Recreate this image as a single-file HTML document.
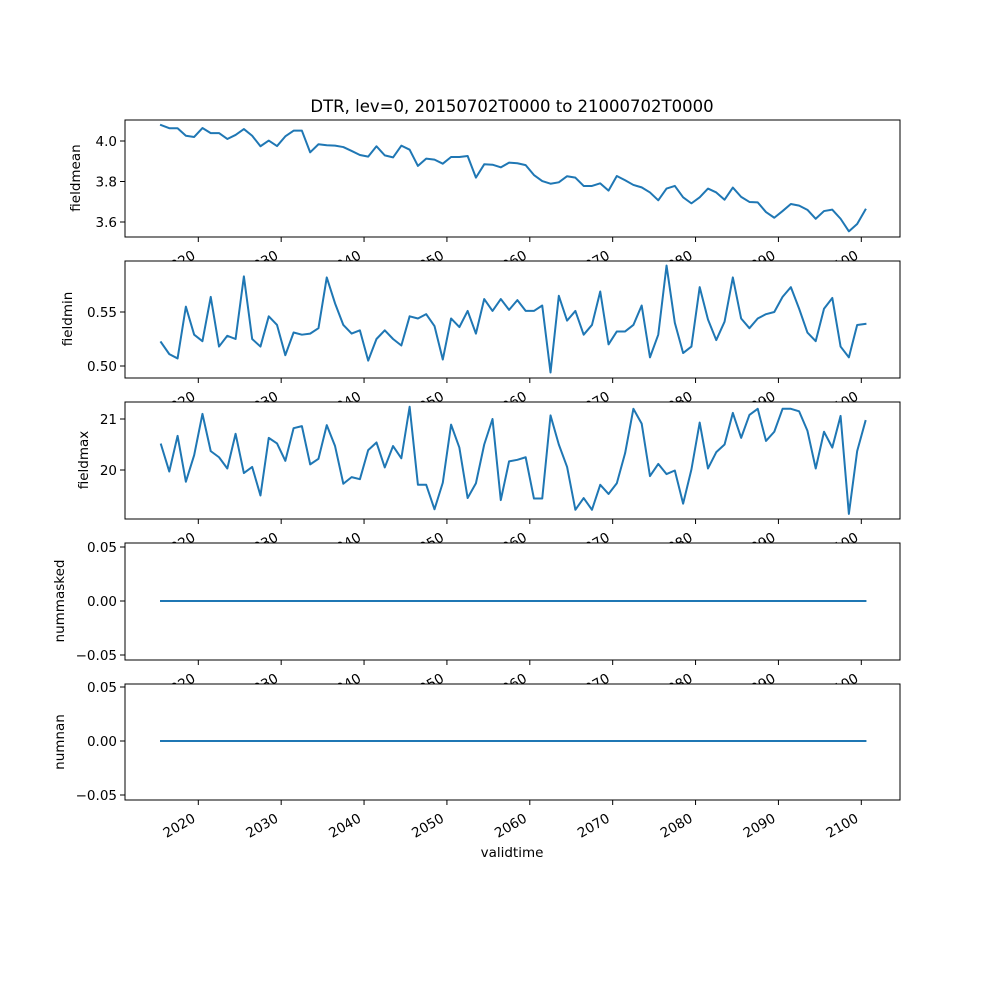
<!DOCTYPE html>
<html><head><meta charset="utf-8"><style>
html,body{margin:0;padding:0;background:#fff}
svg{display:block;font-family:"DejaVu Sans","Liberation Sans",sans-serif}
</style></head><body>
<svg id="fig" width="1000" height="1000" viewBox="0 0 1000 1000">
<text x="512" y="112" text-anchor="middle" font-size="16.5" fill="#000">DTR, lev=0, 20150702T0000 to 21000702T0000</text>
</svg>
<script>
const years = [];
for (let i = 0; i < 86; i++) years.push(2015.5 + i);
const fieldmean = [4.079,4.063,4.063,4.026,4.020,4.064,4.039,4.039,4.010,4.030,4.059,4.026,3.974,4.002,3.975,4.023,4.051,4.051,3.944,3.984,3.979,3.977,3.970,3.951,3.931,3.923,3.974,3.929,3.919,3.977,3.957,3.877,3.913,3.908,3.888,3.921,3.921,3.926,3.819,3.885,3.883,3.870,3.893,3.890,3.881,3.832,3.802,3.789,3.796,3.826,3.819,3.778,3.778,3.791,3.755,3.827,3.806,3.783,3.771,3.746,3.707,3.765,3.778,3.722,3.692,3.722,3.765,3.746,3.710,3.770,3.724,3.699,3.697,3.649,3.621,3.654,3.689,3.681,3.660,3.616,3.654,3.661,3.616,3.554,3.590,3.661];
const fieldmin = [0.522,0.511,0.507,0.555,0.529,0.523,0.564,0.518,0.528,0.525,0.583,0.525,0.518,0.546,0.538,0.510,0.531,0.529,0.530,0.535,0.582,0.558,0.538,0.530,0.533,0.505,0.525,0.533,0.525,0.519,0.546,0.544,0.548,0.537,0.506,0.544,0.536,0.551,0.530,0.562,0.551,0.562,0.552,0.561,0.551,0.551,0.556,0.494,0.565,0.542,0.551,0.529,0.538,0.569,0.520,0.532,0.532,0.538,0.556,0.508,0.529,0.593,0.540,0.512,0.518,0.573,0.543,0.524,0.541,0.582,0.544,0.535,0.544,0.548,0.550,0.564,0.573,0.553,0.531,0.523,0.553,0.563,0.518,0.508,0.538,0.539];
const fieldmax = [20.50,19.97,20.67,19.77,20.29,21.10,20.37,20.25,20.03,20.71,19.94,20.06,19.50,20.63,20.52,20.18,20.82,20.86,20.11,20.22,20.88,20.47,19.73,19.86,19.82,20.39,20.54,20.05,20.47,20.23,21.24,19.71,19.71,19.23,19.75,20.89,20.44,19.45,19.74,20.50,21.00,19.41,20.17,20.20,20.25,19.44,19.44,21.07,20.50,20.06,19.22,19.45,19.22,19.71,19.53,19.74,20.33,21.20,20.91,19.88,20.12,19.92,19.99,19.34,20.01,20.93,20.03,20.35,20.50,21.12,20.63,21.08,21.20,20.57,20.75,21.20,21.20,21.15,20.77,20.03,20.75,20.44,21.06,19.14,20.37,20.96];
const nummasked = new Array(86).fill(0);
const numnan = new Array(86).fill(0);
const xTicks = [2020,2030,2040,2050,2060,2070,2080,2090,2100];
const xTickLabels = ["2020","2030","2040","2050","2060","2070","2080","2090","2100"];
const t1 = [3.6,3.8,4.0], t1l = ["3.6","3.8","4.0"];
const t2 = [0.50,0.55], t2l = ["0.50","0.55"];
const t3 = [20,21], t3l = ["20","21"];
const t4 = [-0.05,0,0.05], t4l = ["\u22120.05","0.00","0.05"];

const NS = "http://www.w3.org/2000/svg";
const svg = document.getElementById('fig');
const L = 125, R = 900;
function xs(t){ return 198.3 + (t - 2020) * 8.2875; }
function mk(tag, attrs, parent){ const e = document.createElementNS(NS, tag); for (const k in attrs) e.setAttribute(k, attrs[k]); (parent||svg).appendChild(e); return e; }

const panels = [
 {name:'fieldmean', top:120, bot:237, data:fieldmean, ys:v=>141+(4.0-v)*202.5, ticks:t1, tl:t1l, lx:80, ly:178},
 {name:'fieldmin', top:261, bot:378, data:fieldmin, ys:v=>312+(0.55-v)*1080, ticks:t2, tl:t2l, lx:72, ly:319},
 {name:'fieldmax', top:402, bot:519, data:fieldmax, ys:v=>419+(21-v)*51, ticks:t3, tl:t3l, lx:88, ly:460},
 {name:'nummasked', top:543, bot:660, data:nummasked, ys:v=>601-v*1080, ticks:t4, tl:t4l, lx:64, ly:601},
 {name:'numnan', top:684, bot:800, data:numnan, ys:v=>741-v*1080, ticks:t4, tl:t4l, lx:64, ly:742}
];

panels.forEach((p, pi) => {
  const g = mk('g', {});
  
  
  const bg = mk('rect', {x:L, y:p.top, width:R-L, height:p.bot-p.top, fill:'#fff'}, g);
  
  
  const pts = p.data.map((v,i) => xs(years[i]).toFixed(2) + ',' + p.ys(v).toFixed(2)).join(' ');
  const line = mk('polyline', {points:pts, fill:'none', stroke:'#1f77b4', 'stroke-width':2, 'stroke-linejoin':'round', 'stroke-linecap':'square'}, g);
  
  
  const fr = mk('rect', {x:L, y:p.top, width:R-L, height:p.bot-p.top, fill:'none', stroke:'#000', 'stroke-width':1}, g);
  
  
  p.ticks.forEach((tv, i) => {
    const y = p.ys(tv);
    mk('line', {x1:L-5, x2:L, y1:y, y2:y, stroke:'#000', 'stroke-width':1}, g);
    const tx = mk('text', {x:L-8, y:y+5, 'text-anchor':'end', 'font-size':13.5, fill:'#000'}, g);
    
    
    tx.textContent = p.tl[i];
  });
  const yl = mk('text', {x:p.lx, y:p.ly, 'text-anchor':'middle', 'font-size':13.5, fill:'#000', transform:'rotate(-90 '+p.lx+' '+p.ly+')'}, g);
  
  
  yl.textContent = p.name;
  xTicks.forEach((t, i) => {
    const x = xs(t);
    mk('line', {x1:x, x2:x, y1:p.bot, y2:p.bot+5, stroke:'#000', 'stroke-width':1}, g);
    const ax = x - 2, ay = p.bot + 21;
    const tx = mk('text', {x:ax, y:ay, 'text-anchor':'end', 'font-size':13.5, fill:'#000', transform:'rotate(-30 '+ax+' '+ay+')'}, g);
    
    
    tx.textContent = xTickLabels[i];
  });
});
const xl = mk('text', {x:512, y:857, 'text-anchor':'middle', 'font-size':13.5, fill:'#000'});


xl.textContent = 'validtime';
</script>
</body></html>
